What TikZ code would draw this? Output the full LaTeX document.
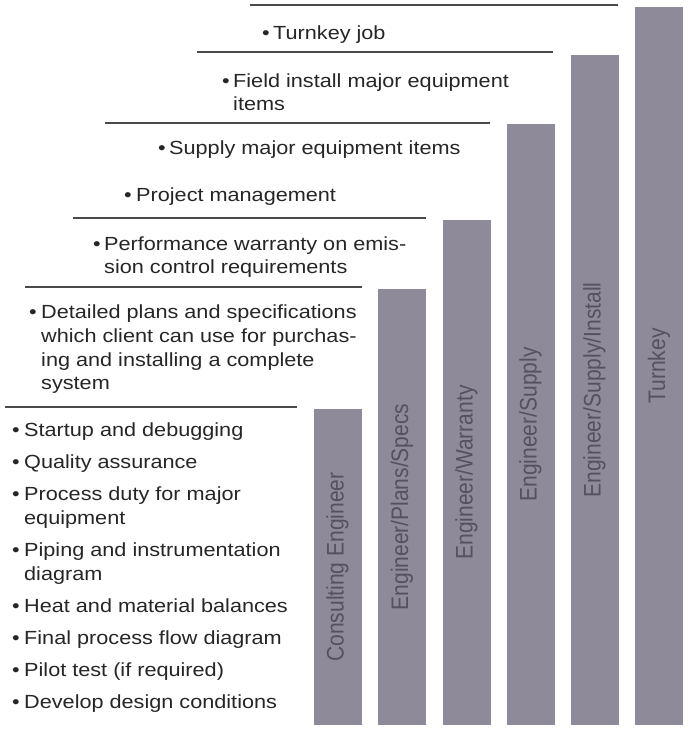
\documentclass[tikz,border=0pt]{standalone}
\usepackage{fontspec}
\usepackage{graphicx}
\newfontfamily\bodyfont{Liberation Sans}[FakeStretch=1.14]
\newfontfamily\labelfont{Liberation Sans}
\definecolor{barfill}{HTML}{8E8A9A}
\definecolor{ink}{HTML}{262626}
\definecolor{rulegray}{HTML}{4A4A4A}
\definecolor{barink}{HTML}{55515E}
\tikzset{
  item/.style={anchor=base west, inner sep=0pt, text=ink,
    font=\bodyfont\fontsize{19}{24}\selectfont},
  rule/.style={draw=rulegray, line width=1.5pt},
  bar/.style={fill=barfill, draw=none, inner sep=0pt, minimum width=48pt},
  barlabel/.style={rotate=90, inner sep=0pt, text=barink,
    font=\labelfont\fontsize{21}{24}\selectfont},
}
\begin{document}
\begin{tikzpicture}[x=1pt,y=-1pt]
\useasboundingbox (0,0) rectangle (690,731);
\fill[white] (0,0) rectangle (690,731);

% service level bars
\node[bar, minimum height=316pt] (b1) at (337.5,567) {};
\node[bar, minimum height=436pt] (b2) at (402,507) {};
\node[bar, minimum height=505pt] (b3) at (466.5,472.5) {};
\node[bar, minimum height=601pt] (b4) at (530.5,424.5) {};
\node[bar, minimum height=670pt] (b5) at (594.5,390) {};
\node[bar, minimum height=718pt] (b6) at (659,366) {};

\node[barlabel] (lb1) at (b1.center) {\scalebox{1}[1.14]{Consulting Engineer}};
\node[barlabel] (lb2) at (b2.center) {\scalebox{1}[1.14]{Engineer/Plans/Specs}};
\node[barlabel] (lb3) at (b3.center) {\scalebox{1}[1.14]{Engineer/Warranty}};
\node[barlabel] (lb4) at (b4.center) {\scalebox{1}[1.14]{Engineer/Supply}};
\node[barlabel] (lb5) at (b5.center) {\scalebox{1}[1.14]{Engineer/Supply/Install}};
\node[barlabel] (lb6) at (b6.center) {\scalebox{1}[1.14]{Turnkey}};

% separating rules
\draw[rule] (250,5) -- (618,5);
\draw[rule] (197,52) -- (553,52);
\draw[rule] (105,123) -- (490,123);
\draw[rule] (73,218) -- (426,218);
\draw[rule] (25,287) -- (362,287);
\draw[rule] (5,407) -- (297,407);

% Turnkey
\node[item] (d1) at (262,39) {•};
\node[item] (t1) at (273,39) {Turnkey job};
% Engineer/Supply/Install
\node[item] (d2) at (222,87) {•};
\node[item] (t2a) at (233,87) {Field install major equipment};
\node[item] (t2b) at (233,110) {items};
% Engineer/Supply
\node[item] (d3) at (158,154) {•};
\node[item] (t3) at (169,154) {Supply major equipment items};
\node[item] (d4) at (124,201) {•};
\node[item] (t4) at (136,201) {Project management};
% Engineer/Warranty
\node[item] (d5) at (93,250) {•};
\node[item] (t5a) at (104,250) {Performance warranty on emis-};
\node[item] (t5b) at (104,273) {sion control requirements};
% Engineer/Plans/Specs
\node[item] (d6) at (29,318) {•};
\node[item] (t6a) at (41,318) {Detailed plans and specifications};
\node[item] (t6b) at (41,342) {which client can use for purchas-};
\node[item] (t6c) at (41,366) {ing and installing a complete};
\node[item] (t6d) at (41,389) {system};
% Consulting Engineer
\node[item] (d7) at (12,436) {•};
\node[item] (t7) at (24,436) {Startup and debugging};
\node[item] (d8) at (12,468) {•};
\node[item] (t8) at (24,468) {Quality assurance};
\node[item] (d9) at (12,500) {•};
\node[item] (t9a) at (24,500) {Process duty for major};
\node[item] (t9b) at (24,524) {equipment};
\node[item] (d10) at (12,556) {•};
\node[item] (t10a) at (24,556) {Piping and instrumentation};
\node[item] (t10b) at (24,580) {diagram};
\node[item] (d11) at (12,612) {•};
\node[item] (t11) at (24,612) {Heat and material balances};
\node[item] (d12) at (12,644) {•};
\node[item] (t12) at (24,644) {Final process flow diagram};
\node[item] (d13) at (12,676) {•};
\node[item] (t13) at (24,676) {Pilot test (if required)};
\node[item] (d14) at (12,708) {•};
\node[item] (t14) at (24,708) {Develop design conditions};
\end{tikzpicture}
\end{document}
